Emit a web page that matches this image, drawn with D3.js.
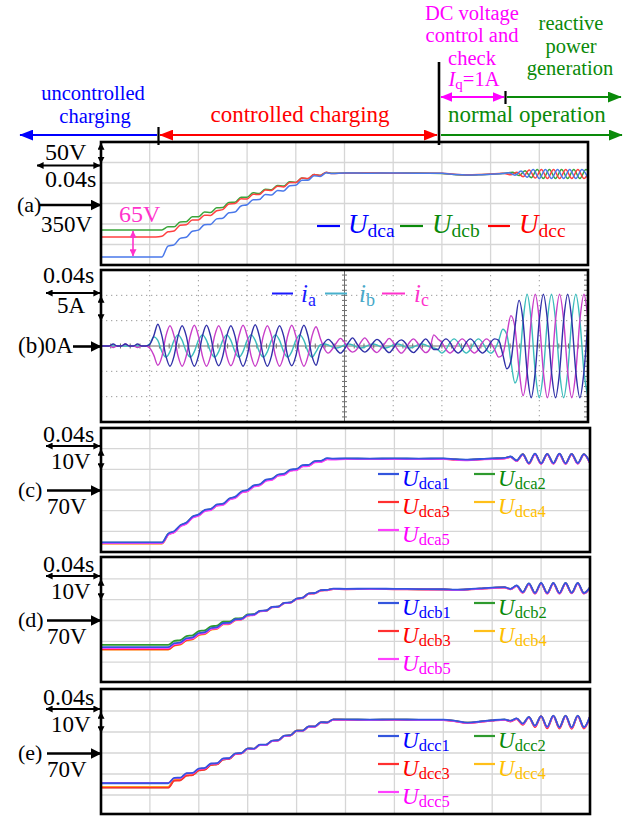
<!DOCTYPE html>
<html><head><meta charset="utf-8">
<script src="https://cdn.jsdelivr.net/npm/d3@7"></script>
<style>
body{margin:0;background:#fff;}
svg{display:block;}
</style></head><body>
<svg id="fig" width="638" height="816"></svg>
<script>
// ---------------- DATA ----------------
// time axis: 0.04 s/div, 10 divisions
const timeDivs = [0.04,0.08,0.12,0.16,0.2,0.24,0.28,0.32,0.36];
// shared DC-voltage sample instants (s)
const timeRamp = [0,0.045,0.05,0.055,0.06,0.065,0.07,0.075,0.08,0.085,0.09,0.095,0.1,0.105,0.11,0.115,0.12,0.125,0.13,0.135,0.14,0.145,0.15,0.155,0.16,0.165,0.17,0.175,0.18,0.185,0.19,0.2,0.22,0.24,0.26,0.28,0.29,0.3,0.31,0.32,0.33];
const timeOsc = [0.335,0.34,0.345,0.35,0.355,0.36,0.365,0.37,0.375,0.38,0.385,0.39,0.395,0.4];

// (a) phase DC voltages (V), 50 V/div
const yTicksA = [250,300,350,400,450];
const uDca = [219.5,219.5,219.5,246,249,265,267.6,282.3,285,298,299,312.5,314,327.5,329,344,347,359,359.5,372,371,382,380.5,393.5,394.5,407,406.5,417.5,416,425,423,424.5,424,424.5,424,423.5,421,419.5,420,421.5,423];
const uDcb = [285.4,285.4,285.4,293,293,305,305.5,317.5,317.5,329,328,339.5,340,352.5,353,365.5,365.5,376,374.5,385,383.5,394,392.5,403,401.5,412,410.5,421,418.5,425.5,423.5,424.5,424.5,424,424.5,423,420.5,419,420,421.5,423];
const uDcc = [268.3,268.3,270,281,283,297,298,310,310,321.5,321,332.5,335,349,350,361.5,361,372.5,372,383,382,392,390.5,401.5,401,412.5,411,421,418.5,426,423,424,424.5,424,424,423.5,421.5,420,420.5,422,423.5];
const oscTimeDca = [0.335,0.34,0.345,0.35,0.355,0.36,0.365,0.37,0.375,0.38,0.385,0.39,0.395,0.4];
const oscDca = [425,419,429,414,433,411,433,411,433,411,433,411,433,412];
const oscTimeDcb = [0.3383,0.3433,0.3483,0.3533,0.3583,0.3633,0.3683,0.3733,0.3783,0.3833,0.3883,0.3933,0.3983,0.4];
const oscDcb = [426,418,430,413,433,411,433,411,433,411,433,411,433,431];
const oscTimeDcc = [0.3367,0.3417,0.3467,0.3517,0.3567,0.3617,0.3667,0.3717,0.3767,0.3817,0.3867,0.3917,0.3967,0.4];
const oscDcc = [420,426,415,432,412,433,411,433,411,433,411,433,411,422];

// (b) grid currents (A), 5 A/div, sampled every 1/300 s
const yTicksB = [-10,-5,5,10];
const currentStep = 1/300;
const ia = [0,0,0,0.4,0,0,0.4,0,0,0.4,0,0,0.3,
 2.0,4.3,2.0,-2.0,-4.0,-2.0, 2.0,4.0,2.0,-2.0,-4.0,-2.0, 2.0,4.1,2.0,-2.0,-3.9,-2.0,
 2.0,4.0,2.0,-2.0,-4.0,-2.0, 2.0,4.2,2.0,-2.0,-4.0,-2.0, 2.0,4.0,2.0,-2.0,-3.9,-2.0,
 2.0,4.1,2.0,-2.0,-3.8,
 -1.0,0.6,1.3,0.6,-0.7,-1.4, -0.6,0.7,1.6,0.5,-0.6,-1.2, -0.6,0.6,1.3,0.7,-0.6,-1.3,
 -0.5,0.7,1.2,0.6,-0.7,-1.3, -0.6,0.6,1.4,0.5,-0.7,
 -0.7,0.7,1.4,0.7,-0.7,-1.4, -0.7,0.7,1.4,0.7,-0.7,-1.4, -0.7,0.7,1.4,
 1.1,-1.65,-4.5,-3.0,3.65,9.0,4.9,
 -5.1,-10.2,-5.1,5.1,10.2,5.1, -5.1,-10.2,-5.1,5.1,10.2,5.1, -5.1,-10.2,-5.1,5.1];
const ib = [0,0,0,0,0,0,0,0,0,0,0,0,0.4,
 1.8,1.1,-1.1,-2.2,-1.1,1.1, 2.2,1.1,-1.1,-2.2,-1.1,1.1, 2.2,1.1,-1.1,-2.2,-1.1,1.1,
 2.2,1.1,-1.1,-2.2,-1.1,1.1, 2.2,1.1,-1.1,-2.2,-1.1,1.1, 2.2,1.1,-1.1,-2.2,-1.1,1.1,
 2.2,1.1,-1.1,-2.2,-1.1,
 0.2,0.4,0.2,-0.2,-0.4,-0.2, 0.2,0.4,0.2,-0.2,-0.4,-0.2, 0.2,0.4,0.2,-0.2,-0.4,-0.2,
 0.2,0.4,0.2,-0.2,-0.4,-0.2, 0.2,0.4,0.2,-0.2,-0.4,
 -0.7,-1.4,-0.7,0.7,1.4,0.7, -0.7,-1.4,-0.7,0.7,1.4,0.7, -0.7,-1.4,-0.7,
 1.1,3.3,2.25,-3.0,-7.3,-4.5,4.9,
 10.2,5.1,-5.1,-10.2,-5.1,5.1, 10.2,5.1,-5.1,-10.2,-5.1,5.1, 10.2,5.1,-5.1,-10.2];
const ic = [0,0,0,-0.3,0,0,0.4,0,0,-0.3,0,0,-0.4,
 -1.8,-3.8,-2.1,2.0,4.0,2.0, -2.0,-4.0,-2.0,2.0,4.1,2.0, -2.0,-4.0,-2.0,2.0,4.0,2.0,
 -2.0,-3.9,-2.0,2.0,4.1,2.0, -2.0,-4.0,-2.0,2.0,4.0,2.0, -2.0,-4.0,-2.0,2.0,4.1,2.0,
 -2.0,-4.0,-2.0,2.0,3.8,
 1.6,-0.5,-1.4,-0.6,0.6,1.5, 0.7,-0.6,-1.2,-0.7,0.7,1.6, 0.6,-0.7,-1.3,-0.5,0.6,1.5,
 0.7,-0.6,-1.4,-0.6,0.7,1.4, 0.6,-0.6,-1.3,-0.6,2.2,
 1.4,0.7,-0.7,-1.4,-0.7,0.7, 1.4,0.7,-0.7,-1.4,-0.7,0.7, 1.4,0.7,-0.7,
 -2.2,-1.65,2.25,6.0,3.65,-4.5,-9.8,
 -5.1,5.1,10.2,5.1,-5.1,-10.2, -5.1,5.1,10.2,5.1,-5.1,-10.2, -5.1,5.1,10.2,5.1];

// (c)-(e) submodule capacitor voltages (V), 10 V/div, times = timeRamp + timeOsc
const yTicksSM = [50,60,70,80,90];
const uDca1 = [44.7,44.7,44.7,48.9,50.1,53.0,54.3,57.2,58.2,60.4,60.9,63.0,63.4,65.9,66.8,69.3,70.0,72.2,72.8,75.0,75.5,77.5,77.9,79.9,80.2,82.0,82.2,84.0,84.1,85.4,85.2, 85.3,85.2,85.3,85.2,85.3,84.9,84.7,85.0,85.3,85.5, 86.2,84.3,87.4,83.0,87.6,82.9,87.5,83.0,87.6,82.9,87.5,83.0,87.4,83.2];
const uDca2 = [44.5,44.5,44.5,48.7,49.9,52.8,54.1,57.0,58.0,60.2,60.7,62.8,63.2,65.7,66.6,69.1,69.8,72.0,72.6,74.8,75.3,77.3,77.7,79.7,80.0,81.8,82.0,83.8,83.9,85.2,85.0, 85.2,85.1,85.2,85.1,85.2,84.8,84.6,84.9,85.2,85.4, 86.1,84.2,87.3,82.9,87.5,82.8,87.4,82.9,87.5,82.8,87.4,82.9,87.3,83.1];
const uDca3 = [44.2,44.2,44.2,48.5,49.7,52.6,53.9,56.8,57.8,60.0,60.5,62.6,63.0,65.5,66.4,68.9,69.6,71.8,72.4,74.6,75.1,77.1,77.5,79.5,79.8,81.6,81.8,83.6,83.7,85.0,84.9, 85.1,85.0,85.1,85.0,85.1,84.7,84.5,84.8,85.1,85.3, 86.0,84.1,87.2,82.8,87.4,82.7,87.3,82.8,87.4,82.7,87.3,82.8,87.2,83.0];
const uDca4 = [44.1,44.1,44.1,48.4,49.7,52.6,53.9,56.8,57.8,60.0,60.5,62.6,63.0,65.5,66.4,68.9,69.6,71.8,72.4,74.6,75.1,77.1,77.5,79.5,79.8,81.6,81.8,83.6,83.7,85.0,84.9, 85.1,85.0,85.1,85.0,85.1,84.7,84.5,84.8,85.1,85.3, 86.0,84.1,87.2,82.8,87.4,82.7,87.3,82.8,87.4,82.7,87.3,82.8,87.2,83.0];
const uDca5 = [44.3,44.3,44.3,48.3,49.5,52.4,53.7,56.6,57.6,59.8,60.3,62.4,62.8,65.3,66.2,68.7,69.4,71.6,72.2,74.4,74.9,76.9,77.3,79.3,79.6,81.4,81.6,83.4,83.5,84.8,84.7, 85.0,84.9,85.0,84.9,85.0,84.6,84.4,84.7,85.0,85.2, 85.9,84.0,87.1,82.7,87.3,82.6,87.2,82.7,87.3,82.6,87.2,82.7,87.1,82.9];

const uDcb1 = [57.2,57.2,57.2,57.2,59.1,59.5,61.5,61.9,64.0,64.4,66.4,66.8,68.8,68.9,70.6,70.8,72.7,72.9,74.6,74.8,76.5,76.7,78.5,78.7,80.5,81.0,83.0,83.2,84.6,84.7,85.3, 85.2,85.3,85.2,85.1,85.0,84.8,85.0,85.4,85.8,86.0, 85.2,86.8,83.6,87.8,83.2,88.0,83.2,88.0,83.2,88.0,83.3,88.0,83.2,86.0];
const uDcb2 = [58.3,58.3,58.3,58.3,60.2,60.6,62.5,62.9,64.9,65.3,67.2,67.5,69.4,69.4,71.0,71.1,72.9,73.0,74.5,74.7,76.4,76.6,78.4,78.6,80.4,80.9,82.9,83.1,84.5,84.6,85.2, 85.1,85.2,85.1,85.0,84.9,84.7,84.9,85.3,85.7,85.9, 85.1,86.7,83.5,87.7,83.1,87.9,83.1,87.9,83.1,87.9,83.2,87.9,83.1,85.9];
const uDcb3 = [56.2,56.2,56.2,56.2,58.1,58.6,60.6,61.1,63.2,63.7,65.7,66.2,68.3,68.5,70.3,70.6,72.5,72.8,74.5,74.7,76.4,76.6,78.4,78.6,80.4,80.9,82.9,83.1,84.5,84.6,85.2, 85.1,85.2,85.1,85.0,84.9,84.7,84.9,85.3,85.7,85.9, 85.1,86.6,83.4,87.6,83.0,87.8,83.0,87.8,83.0,87.8,83.1,87.8,83.0,85.8];
const uDcb4 = [56.0,56.0,56.0,56.0,57.9,58.4,60.4,60.9,63.0,63.5,65.5,66.0,68.1,68.3,70.1,70.5,72.4,72.7,74.4,74.6,76.3,76.5,78.3,78.5,80.3,80.8,82.8,83.0,84.4,84.5,85.1, 85.0,85.1,85.0,84.9,84.8,84.6,84.8,85.2,85.6,85.8, 85.0,86.5,83.3,87.5,82.9,87.7,82.9,87.7,82.9,87.7,83.0,87.7,82.9,85.7];
const uDcb5 = [56.7,56.7,56.7,56.7,58.6,59.0,61.0,61.4,63.5,63.9,65.9,66.3,68.4,68.5,70.3,70.5,72.4,72.6,74.4,74.6,76.3,76.5,78.3,78.5,80.3,80.8,82.8,83.0,84.4,84.5,85.1, 85.0,85.1,85.0,84.9,84.8,84.6,84.8,85.2,85.6,85.8, 85.0,86.5,83.3,87.5,82.9,87.7,82.9,87.7,82.9,87.7,83.0,87.7,82.9,85.7];

const uDcc1 = [55.6,55.6,55.6,55.6,58.2,58.3,60.4,60.5,62.6,62.9,65.0,65.2,67.4,67.6,69.8,70.0,72.2,72.1,74.0,74.0,75.9,76.1,78.3,78.5,80.7,80.7,82.7,82.7,84.7,84.6,86.0, 86.0,85.9,86.0,85.9,85.9,85.3,84.5,85.0,85.6,86.0, 85.4,86.5,84.0,87.2,83.0,87.6,82.4,87.8,82.3,87.8,82.2,87.8,82.3,87.5];
const uDcc2 = [53.7,53.7,53.7,53.7,57.0,57.2,59.4,59.6,61.8,62.2,64.4,64.7,67.0,67.3,69.6,69.9,72.1,72.0,73.9,73.9,75.8,76.0,78.2,78.4,80.6,80.6,82.6,82.6,84.6,84.5,85.9, 85.9,85.8,85.9,85.8,85.8,85.2,84.4,84.9,85.5,85.9, 85.3,86.4,83.9,87.1,82.9,87.5,82.3,87.7,82.2,87.7,82.1,87.7,82.2,87.4];
const uDcc3 = [53.5,53.5,53.5,53.5,56.8,57.0,59.2,59.5,61.7,62.1,64.3,64.6,66.9,67.2,69.5,69.8,72.1,72.0,73.9,73.9,75.8,76.0,78.2,78.4,80.6,80.6,82.6,82.6,84.6,84.5,85.9, 85.8,85.7,85.8,85.7,85.7,85.1,84.3,84.8,85.4,85.8, 85.0,86.2,83.4,87.0,82.3,87.4,81.7,87.6,81.6,87.6,81.5,87.6,81.6,87.2];
const uDcc4 = [53.9,53.9,53.9,53.9,57.1,57.3,59.5,59.7,61.9,62.3,64.5,64.8,67.1,67.4,69.7,69.9,72.1,72.0,73.9,73.9,75.8,76.0,78.2,78.4,80.6,80.6,82.6,82.6,84.6,84.5,85.9, 85.9,85.8,85.9,85.8,85.8,85.2,84.4,84.9,85.5,85.9, 85.3,86.4,83.9,87.1,82.9,87.5,82.3,87.7,82.2,87.7,82.1,87.7,82.2,87.4];
const uDcc5 = [55.8,55.8,55.8,55.8,58.0,58.1,60.2,60.3,62.4,62.7,64.8,65.0,67.2,67.4,69.6,69.8,72.0,71.9,73.8,73.8,75.7,75.9,78.1,78.3,80.5,80.5,82.5,82.5,84.5,84.4,85.8, 85.8,85.7,85.8,85.7,85.7,85.1,84.3,84.8,85.4,85.8, 85.2,86.3,83.8,87.0,82.8,87.4,82.2,87.6,82.1,87.6,82.0,87.6,82.1,87.3];

// ---------------- DRAWING ----------------
const FONT = '"Liberation Serif","Times New Roman",serif';
const svg = d3.select("#fig").style("font-family", FONT);
svg.append("rect").attr("width",638).attr("height",816).attr("fill","#fff");
const defs = svg.append("defs");

function mk(id, color, len, wid){
  defs.append("marker").attr("id",id).attr("viewBox","0 0 10 10")
    .attr("refX",9.5).attr("refY",5).attr("markerUnits","userSpaceOnUse")
    .attr("markerWidth",len).attr("markerHeight",wid).attr("preserveAspectRatio","none")
    .attr("orient","auto-start-reverse")
    .append("path").attr("d","M0,0L10,5L0,10Z").attr("fill",color);
}
mk("hBlue","#0000ff",14,11); mk("hRed","#ff0000",14,11); mk("hGreen","#0a8a0a",14,11);
mk("hMag","#ff00ff",12,10); mk("hBlk","#000",7,7); mk("hBlkL","#000",11,11); mk("hPink","#ff33cc",7,7);

function line(x1,y1,x2,y2,color,w,ms,me){
  const l = svg.append("line").attr("x1",x1).attr("y1",y1).attr("x2",x2).attr("y2",y2)
    .attr("stroke",color).attr("stroke-width",w);
  if(ms) l.attr("marker-start",`url(#${ms})`);
  if(me) l.attr("marker-end",`url(#${me})`);
  return l;
}
function txt(x,y,s,size,color,anchor){
  return svg.append("text").attr("x",x).attr("y",y).attr("font-size",size)
    .attr("fill",color||"#000").attr("text-anchor",anchor||"start").text(s);
}
function subTxt(x,y,main,sub,fs,sfs,color,dy){
  const t = svg.append("text").attr("x",x).attr("y",y).attr("fill",color);
  t.append("tspan").attr("font-size",fs).attr("font-style","italic").text(main);
  t.append("tspan").attr("font-size",sfs).attr("dy",dy).text(sub);
  return t;
}

// ---- top phase annotations (stacked lines kept from overlapping) ----
const TS = 20.5;
txt(472,19.5,"DC voltage",TS,"#ff00ff","middle");
txt(472,42,"control and",TS,"#ff00ff","middle");
txt(472,64.5,"check",TS,"#ff00ff","middle");
{
  const t = svg.append("text").attr("x",474).attr("y",86).attr("fill","#ff00ff").attr("text-anchor","middle");
  t.append("tspan").attr("font-size",TS).attr("font-style","italic").text("I");
  t.append("tspan").attr("font-size",15).attr("dy",3).text("q");
  t.append("tspan").attr("font-size",TS).attr("dy",-3).text("=1A");
}
txt(571,30,"reactive",TS,"#0a8a0a","middle");
txt(571,52.5,"power",TS,"#0a8a0a","middle");
txt(570,75,"generation",TS,"#0a8a0a","middle");
txt(93,100,"uncontrolled",TS,"#0000ff","middle");
txt(95,123,"charging",TS,"#0000ff","middle");
txt(300,122,"controlled charging",23,"#ff0000","middle");
txt(527,122,"normal operation",23,"#0a8a0a","middle");

line(20,135,157,135,"#0000ff",2.2,"hBlue",null);
line(160,135,437,135,"#ff0000",2.2,"hRed","hRed");
line(441,135,622,135,"#0a8a0a",2.2,null,"hGreen");
line(441,97,504,97,"#ff00ff",2,"hMag","hMag");
line(507,97,621,97,"#0a8a0a",2,null,"hGreen");
line(158.5,127,158.5,145,"#000",2.2);
line(439,62,439,145,"#000",2.6);
line(505.5,91,505.5,104,"#000",2.2);

// ---- panels ----
const panels = {
  a:{l:101,r:588,t:142,b:265},
  b:{l:101,r:588,t:270,b:422},
  c:{l:101,r:590,t:428,b:552},
  d:{l:101,r:590,t:557,b:682},
  e:{l:101,r:590,t:689,b:814}
};
const xA = d3.scaleLinear().domain([0,0.4]).range([panels.a.l,panels.a.r]);
const xB = d3.scaleLinear().domain([0,0.4]).range([panels.b.l,panels.b.r]);
const xS = d3.scaleLinear().domain([0,0.4]).range([panels.c.l,panels.c.r]);
const yA = d3.scaleLinear().domain([200,500]).range([265,142]);
const yB = d3.scaleLinear().domain([-15,15]).range([422,270]);
const yC = d3.scaleLinear().domain([40,100]).range([552,428]);
const yD = d3.scaleLinear().domain([40,100]).range([683,558]);
const yE = d3.scaleLinear().domain([40,100]).range([816,690]);

function clipFor(id,p){
  defs.append("clipPath").attr("id",id).append("rect")
    .attr("x",p.l).attr("y",p.t).attr("width",p.r-p.l).attr("height",p.b-p.t);
}
Object.keys(panels).forEach(k=>clipFor("clip_"+k,panels[k]));

function solidGrid(p,x,y,yt){
  const g = svg.append("g").attr("stroke","#d6d6d6").attr("stroke-width",1.3);
  timeDivs.forEach(t=>g.append("line").attr("x1",x(t)).attr("x2",x(t)).attr("y1",p.t).attr("y2",p.b));
  yt.forEach(v=>g.append("line").attr("x1",p.l).attr("x2",p.r).attr("y1",y(v)).attr("y2",y(v)));
}
function border(p){
  svg.append("rect").attr("x",p.l).attr("y",p.t).attr("width",p.r-p.l).attr("height",p.b-p.t)
    .attr("fill","none").attr("stroke","#000").attr("stroke-width",2.6);
}
const lineGen = (x,y)=>d3.line().x(d=>x(d.t)).y(d=>y(d.v)).curve(d3.curveMonotoneX);
function series(clip,x,y,times,vals,color,w){
  const data = times.map((t,i)=>({t:t,v:vals[i]}));
  svg.append("path").datum(data).attr("clip-path",`url(#${clip})`)
    .attr("fill","none").attr("stroke",color).attr("stroke-width",w)
    .attr("stroke-linejoin","round").attr("d",lineGen(x,y));
}

// (a)
solidGrid(panels.a,xA,yA,yTicksA);
series("clip_a",xA,yA,timeRamp.concat(oscTimeDcb),uDcb.concat(oscDcb),"#3aa53a",1.5);
series("clip_a",xA,yA,timeRamp.concat(oscTimeDcc),uDcc.concat(oscDcc),"#ff4040",1.5);
series("clip_a",xA,yA,timeRamp.concat(oscTimeDca),uDca.concat(oscDca),"#4a78ea",1.5);
border(panels.a);
// legend (a)
line(317,226,340,226,"#0000ff",2.2); subTxt(348,233,"U","dca",27,19.5,"#0000ff",3.5);
line(400,226,423,226,"#0a8a0a",2.2); subTxt(432,233,"U","dcb",27,19.5,"#0a8a0a",3.5);
line(488,226,510,226,"#ff0000",2.2); subTxt(519,233,"U","dcc",27,19.5,"#ff0000",3.5);
// 65 V annotation
line(133,231,133,256,"#ff33cc",1.6,"hPink","hPink");
txt(119,222,"65V",24,"#ff33cc");

// (b)
{
  const p = panels.b;
  const g = svg.append("g").attr("stroke","#9a9a9a").attr("stroke-width",1).attr("stroke-dasharray","1.3,3.7");
  timeDivs.filter(t=>t!==0.2).forEach(t=>g.append("line").attr("x1",xB(t)).attr("x2",xB(t)).attr("y1",p.t).attr("y2",p.b));
  yTicksB.forEach(v=>g.append("line").attr("x1",p.l).attr("x2",p.r).attr("y1",yB(v)).attr("y2",yB(v)));
  const c = svg.append("g").attr("stroke","#6e6e6e").attr("stroke-width",1);
  c.append("line").attr("x1",xB(0.2)).attr("x2",xB(0.2)).attr("y1",p.t).attr("y2",p.b);
  c.append("line").attr("x1",p.l).attr("x2",p.r).attr("y1",yB(0)).attr("y2",yB(0));
  d3.range(-15,15.01,1).forEach(v=>{
    c.append("line").attr("x1",xB(0.2)-2.5).attr("x2",xB(0.2)+2.5).attr("y1",yB(v)).attr("y2",yB(v));
    c.append("line").attr("x1",p.r-4).attr("x2",p.r).attr("y1",yB(v)).attr("y2",yB(v));
  });
  d3.range(0,0.4001,0.008).forEach(t=>{
    c.append("line").attr("x1",xB(t)).attr("x2",xB(t)).attr("y1",yB(0)-2.5).attr("y2",yB(0)+2.5);
  });
  const tB = ia.map((_,i)=>i*currentStep);
  series("clip_b",xB,yB,tB,ib,"#3cbcbc",1.4);
  series("clip_b",xB,yB,tB,ic,"#c83ec8",1.4);
  series("clip_b",xB,yB,tB,ia,"#3030a8",1.4);
  border(p);
  line(272,293.5,293,293.5,"#1a1aff",2); subTxt(301,302,"i","a",25,18,"#1a1aff",4);
  line(325,293.5,347,293.5,"#48b0cc",2); subTxt(359,302,"i","b",25,18,"#48a8c8",4);
  line(382,293.5,405,293.5,"#ff33cc",2); subTxt(414,302,"i","c",25,18,"#ff33cc",4);
}

// (c)-(e)
const smColors = ["#3355dd","#2e9a2e","#ff3030","#ffbf1a","#ff40ff"];
const legColors = ["#0000ff","#0a8a0a","#ff0000","#ffc000","#ff00ff"];
const timeDC = timeRamp.concat(timeOsc);
function smPanel(key,y,arrs,phase,offs){
  const p = panels[key];
  solidGrid(p,xS,y,yTicksSM);
  // draw order: 2,4,3,5,1 (blue on top)
  [1,3,2,4,0].forEach(i=>series("clip_"+key,xS,y,timeDC,arrs[i],smColors[i],1.8));
  border(p);
  const rows=[p.t+46,p.t+74,p.t+102];
  const cols=[[378,399,402],[474,495,498]];
  const pos=[[0,0],[0,1],[1,0],[1,1],[2,0]];
  pos.forEach((rc,i)=>{
    const ry=rows[rc[0]]+offs, c=cols[rc[1]];
    line(c[0],ry,c[1],ry,smColors[i],2.2);
    subTxt(c[2],ry+11.5,"U","dc"+phase+(i+1),23,16.5,legColors[i],3.5);
  });
}
smPanel("c",yC,[uDca1,uDca2,uDca3,uDca4,uDca5],"a",0);
smPanel("d",yD,[uDcb1,uDcb2,uDcb3,uDcb4,uDcb5],"b",0);
smPanel("e",yE,[uDcc1,uDcc2,uDcc3,uDcc4,uDcc5],"c",1);

// ---- left scale annotations ----
// (a)
txt(45,160,"50V",24);
line(101,143,101,163.5,"#000",1.8,"hBlk","hBlk");
line(37,165.5,100,165.5,"#000",1.8,"hBlk","hBlk");
txt(45,187,"0.04s",24);
txt(17,212,"(a)",22);
line(40,205,101,205,"#000",2.6,null,"hBlkL");
txt(41,232,"350V",23);
// (b)
txt(43,283,"0.04s",24);
line(46,293,100,293,"#000",1.8,"hBlk","hBlk");
line(101,296,101,321,"#000",1.8,"hBlk","hBlk");
txt(57,313,"5A",23);
txt(18,353,"(b)0A",23);
line(73,346.5,101,346.5,"#000",2.6,null,"hBlkL");
// (c)-(e)
[["c",0],["d",130],["e",263]].forEach(([lab,dy])=>{
  txt(43,442+dy,"0.04s",24);
  line(46,446+dy,100,446+dy,"#000",1.8,"hBlk","hBlk");
  line(101,449+dy,101,470+dy,"#000",1.8,"hBlk","hBlk");
  txt(51,469+dy,"10V",23);
  txt(18,497+dy,"("+lab+")",22);
  line(47,490.5+dy,101,490.5+dy,"#000",2.6,null,"hBlkL");
  txt(47,514+dy,"70V",23);
});
</script>
</body></html>
